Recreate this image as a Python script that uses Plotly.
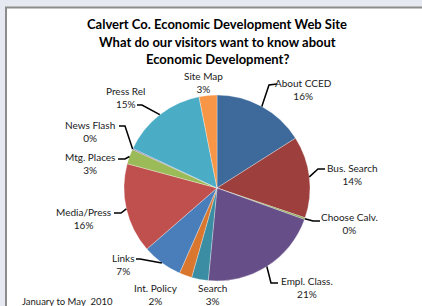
import plotly.graph_objects as go
import math

W, H = 422, 306

categories = ["About CCED", "Bus. Search", "Choose Calv.", "Empl. Class.", "Search",
              "Int. Policy", "Links", "Media/Press", "Mtg. Places", "News Flash",
              "Press Rel", "Site Map"]
values = [16.0, 14.2, 0.3, 21.0, 2.9, 2.2, 7.0, 15.6, 2.6, 0.2, 14.9, 3.1]
colors = ["#3E6A9B", "#9C3F3D", "#86A34A", "#664F88", "#3A8DA2", "#D9772E",
          "#4A7EBB", "#C0504D", "#9BBB59", "#8064A2", "#4BACC6", "#F79646"]

title_lines = ["Calvert Co. Economic Development Web Site",
               "What do our visitors want to know about",
               "Economic Development?"]
footnote = "January to May  2010"

# layout (pixel) constants
CX, CY, R = 217, 188, 93
title_y = [24.5, 42, 59.5]
label_pos = {
    "About CCED": (303, 89), "Bus. Search": (352, 174), "Choose Calv.": (349, 224),
    "Empl. Class.": (307, 287), "Search": (212, 294), "Int. Policy": (156, 294),
    "Links": (123, 264), "Media/Press": (83, 218), "Mtg. Places": (90, 163),
    "News Flash": (90, 131), "Press Rel": (125, 98), "Site Map": (203, 82.5),
}
# leader elbows (pixel)
leader = {
    "About CCED": [(269, 85), (277, 84)],
    "Bus. Search": [(318, 169), (325, 169)],
    "Choose Calv.": [(313, 221), (320, 221)],
    "Empl. Class.": [(271, 283), (278, 283)],
    "Links": [(140, 259), (136, 259)],
    "Media/Press": [(121, 213), (114, 213)],
    "Mtg. Places": [(125, 159), (118, 159)],
    "News Flash": [(125, 126), (119, 126)],
    "Press Rel": [(142, 105), (137, 105)],
}

def px(x):
    return x / W

def py(y):
    return 1 - y / H

FONT = "Lato"
BG = "#E6E9F1"
fig = go.Figure()
fig.add_trace(go.Pie(
    labels=categories, values=values, sort=False, direction="clockwise",
    rotation=0, textinfo="none", hoverinfo="label+percent",
    marker=dict(colors=colors, line=dict(color="rgba(255,255,255,0.6)", width=0.5)),
    domain=dict(x=[px(CX - R), px(CX + R)], y=[py(CY + R), py(CY - R)]),
    showlegend=False,
))

shapes = [dict(type="rect", xref="paper", yref="paper",
               x0=px(6), x1=px(W + 10), y0=py(H + 10), y1=py(7.5),
               fillcolor="white", line=dict(color="#8C8C8C", width=2), layer="below")]

total = sum(values)
cum = 0
annotations = []
for name, v in zip(categories, values):
    mid = (cum + v / 2) / total * 2 * math.pi
    cum += v
    sx, sy = CX + R * math.sin(mid), CY - R * math.cos(mid)
    pct = round(v / total * 100)
    lx, ly = label_pos[name]
    annotations.append(dict(x=px(lx), y=py(ly), xref="paper", yref="paper",
                            text=f"{name}<br>{pct}%", showarrow=False,
                            font=dict(family=FONT, size=10, color="#1a1a1a"),
                            xanchor="center", yanchor="middle", align="center"))
    if leader.get(name):
        pts = [(sx, sy)] + leader[name]
        path = "M " + " L ".join(f"{px(x)},{py(y)}" for x, y in pts)
        shapes.append(dict(type="path", xref="paper", yref="paper", path=path,
                           line=dict(color="black", width=1.5)))

for t, ty in zip(title_lines, title_y):
    annotations.append(dict(x=px(217), y=py(ty), xref="paper", yref="paper",
                            text=f"<b>{t}</b>", showarrow=False,
                            font=dict(family=FONT, size=13, color="black"),
                            xanchor="center", yanchor="middle", align="center"))
annotations.append(dict(x=px(20), y=py(301), xref="paper", yref="paper",
                        text=footnote, showarrow=False,
                        font=dict(family=FONT, size=9.5, color="#1a1a1a"),
                        xanchor="left", yanchor="middle"))

fig.update_layout(width=W, height=H, margin=dict(l=0, r=0, t=0, b=0),
                  paper_bgcolor=BG, plot_bgcolor="white",
                  shapes=shapes, annotations=annotations)
fig.write_html("out.html", config={"displayModeBar": False},
               post_script=f"document.body.style.margin='0';document.body.style.background='{BG}';document.body.style.overflow='hidden';")
